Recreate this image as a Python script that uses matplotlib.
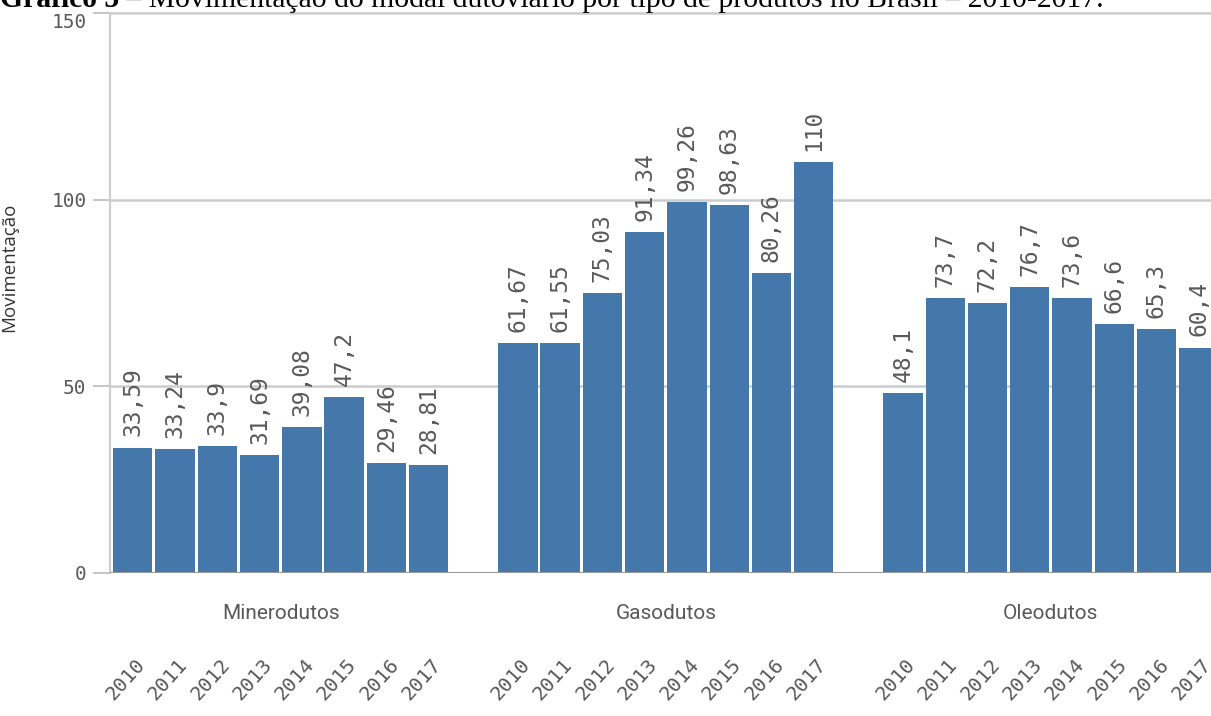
import numpy as np
import matplotlib
matplotlib.use("Agg")
import matplotlib.pyplot as plt
import matplotlib.transforms as mtransforms

# dados
grupos = ["Minerodutos", "Gasodutos", "Oleodutos"]
anos = ["2010", "2011", "2012", "2013", "2014", "2015", "2016", "2017"]
minerodutos = [33.59, 33.24, 33.9, 31.69, 39.08, 47.2, 29.46, 28.81]
gasodutos = [61.67, 61.55, 75.03, 91.34, 99.26, 98.63, 80.26, 110]
oleodutos = [48.1, 73.7, 72.2, 76.7, 73.6, 66.6, 65.3, 60.4]
valores = [minerodutos, gasodutos, oleodutos]

cor_barra = "#4477aa"
cinza = "#595959"
mono = "DejaVu Sans Mono"

fig = plt.figure(figsize=(12.11, 7.16), dpi=100)
ax = fig.add_axes([110 / 1211, 1 - 573 / 716, 1 - 110 / 1211, 560 / 716])

passo_grupo = 9.11
trans = mtransforms.blended_transform_factory(ax.transData, ax.transAxes)
for g, (nome, vals) in enumerate(zip(grupos, valores)):
    x = g * passo_grupo + np.arange(len(vals))
    ax.bar(x, vals, width=0.93, color=cor_barra, zorder=3)
    for xi, v in zip(x, vals):
        rotulo = f"{v:g}".replace(".", ",")
        ax.annotate(rotulo, (xi, v), xytext=(0, 8), textcoords="offset points",
                    rotation=90, ha="center", va="bottom", fontsize=16.5,
                    family=mono, color=cinza)
    # rótulo do grupo e dos anos abaixo do eixo
    ax.text(x.mean(), -0.073, nome, transform=trans, ha="center", va="center",
            fontsize=15, family="Roboto", color=cinza)
    for xi, ano in zip(x, anos):
        ax.text(xi + 0.05, -0.146, ano, transform=trans, rotation=48,
                rotation_mode="anchor", ha="right", va="top", fontsize=14.5,
                family=mono, color=cinza)

ax.set_xlim(-0.54, 25.51)
ax.set_ylim(0, 150)
ax.set_xticks([])
ax.set_yticks([0, 50, 100, 150])
ax.set_yticklabels(["0", "50", "100", "150"], family=mono, fontsize=14, color=cinza)
ax.get_yticklabels()[-1].set_verticalalignment("top")
ax.tick_params(axis="y", length=12, width=1.2, color="#bbbbbb", pad=5)
for y in [50, 100, 150]:
    ax.axhline(y, color="#cccccc", lw=1.8, zorder=1, clip_on=False)
ax.axhline(0, color="#999999", lw=1.5, zorder=4)
for s in ["top", "right", "bottom"]:
    ax.spines[s].set_visible(False)
ax.spines["left"].set_color("#cccccc")
ax.spines["left"].set_linewidth(1.5)
ax.set_ylabel("Movimentação", fontsize=13.5, family="Open Sans", color="#333333", labelpad=14)
ax.yaxis.set_label_coords(-0.083, 0.545)

# título (cortado no topo, como na figura original)
base = 1 - 7 / 716
t1 = fig.text(0.0, base, "Gráfico 5", ha="left", va="baseline",
              fontsize=21.3, family="Liberation Serif", weight="bold")
fig.canvas.draw()
bb = t1.get_window_extent(fig.canvas.get_renderer())
fig.text(bb.x1 / fig.bbox.width, base,
         " – Movimentação do modal dutoviário por tipo de produtos no Brasil – 2010-2017.",
         ha="left", va="baseline", fontsize=21.3, family="Liberation Serif")

fig.savefig("out.png", dpi=100)
